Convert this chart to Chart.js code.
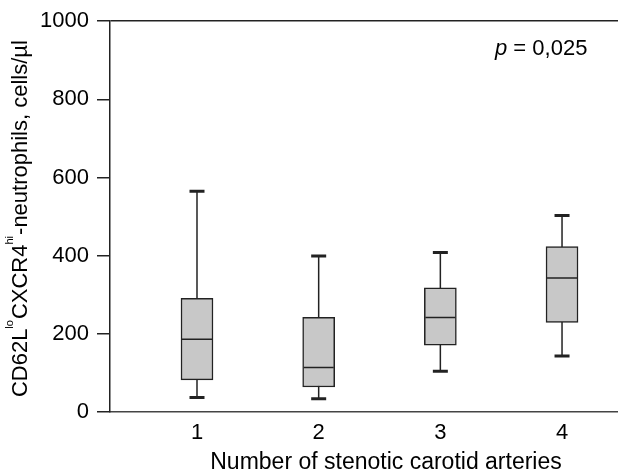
<!DOCTYPE html>
<html>
<head>
<meta charset="utf-8">
<script src="https://cdn.jsdelivr.net/npm/chart.js@4/dist/chart.umd.min.js"></script>
<style>
  body { margin: 0; background: #fff; }
  #wrap { width: 618px; height: 473px; position: relative; }
</style>
</head>
<body>
<div id="wrap"><canvas id="chart"></canvas></div>
<script>
// box plot values
const categories = [1, 2, 3, 4];
const whiskerLow = [37, 34, 104, 143];
const q1 = [82, 64, 171, 229];
const median = [186, 114, 242, 343];
const q3 = [291, 242, 318, 423];
const whiskerHigh = [565, 399, 408, 503];
const yTicks = [0, 200, 400, 600, 800, 1000];
const pLabel = '0,025';
const xTitle = 'Number of stenotic carotid arteries';

const FONT = "'Liberation Sans', Arial, sans-serif";
const INK = '#222';

// whiskers: one vertical line per group, drawn under the box
const whiskerSets = categories.map((c, i) => ({
    type: 'line',
    data: [{ x: c, y: whiskerLow[i] }, { x: c, y: whiskerHigh[i] }],
    borderColor: INK,
    borderWidth: 1.5,
    pointRadius: 0,
    order: 3
}));

const boxSet = {
    type: 'bar',
    data: categories.map((c, i) => ({ x: c, y: [q1[i], q3[i]] })),
    backgroundColor: '#c8c8c8',
    borderColor: INK,
    borderWidth: 1.5,
    borderSkipped: false,
    barThickness: 32,
    order: 2
};

const medianSet = {
    type: 'scatter',
    data: categories.map((c, i) => ({ x: c, y: median[i] })),
    pointStyle: 'line',
    pointRadius: 15,
    borderColor: INK,
    borderWidth: 1.5,
    order: 1
};

const capSet = {
    type: 'scatter',
    data: categories.flatMap((c, i) => [{ x: c, y: whiskerLow[i] }, { x: c, y: whiskerHigh[i] }]),
    pointStyle: 'line',
    pointRadius: 7.5,
    borderColor: INK,
    borderWidth: 3,
    order: 1
};

// y title with superscripts, x title, p value
const textPlugin = {
    id: 'texts',
    afterDraw(chart) {
        const ctx = chart.ctx;
        const area = chart.chartArea;
        const big = '22px ' + FONT;
        const small = '11px ' + FONT;
        const parts = [
            ['CD62L', big, 0], ['lo', small, 14], ['CXCR4', big, 0], ['hi', small, 14],
            ['-neutrophils, cells/\u00b5l', big, 0]
        ];
        ctx.save();
        let total = 0;
        parts.forEach(p => { ctx.font = p[1]; total += ctx.measureText(p[0]).width + (p[2] ? 1 : 0); });
        ctx.translate(27, (area.top + area.bottom) / 2 + 2);
        ctx.rotate(-Math.PI / 2);
        ctx.fillStyle = '#000';
        ctx.textBaseline = 'alphabetic';
        let x = -total / 2;
        parts.forEach(p => {
            ctx.font = p[1];
            ctx.fillText(p[0], x, -p[2]);
            x += ctx.measureText(p[0]).width + (p[2] ? 1 : 0);
        });
        ctx.restore();

        ctx.save();
        ctx.fillStyle = '#000';
        ctx.textBaseline = 'alphabetic';
        ctx.textAlign = 'center';
        ctx.font = '23px ' + FONT;
        ctx.fillText(xTitle, 386, 469);
        ctx.textAlign = 'left';
        ctx.font = 'italic 22px ' + FONT;
        ctx.fillText('p', 495, 55);
        let px = 495 + ctx.measureText('p').width;
        ctx.font = '22px ' + FONT;
        ctx.fillText(' = ' + pLabel, px, 55);
        ctx.restore();
    }
};

new Chart(document.getElementById('chart'), {
    type: 'bar',
    data: { datasets: [...whiskerSets, boxSet, medianSet, capSet] },
    options: {
        responsive: true,
        maintainAspectRatio: false,
        animation: false,
        layout: { autoPadding: false, padding: { top: 21, right: 0, left: 0, bottom: 0 } },
        plugins: { legend: { display: false }, tooltip: { enabled: false } },
        scales: {
            x: {
                type: 'linear',
                offset: false,
                min: 0.285,
                max: 4.46,
                afterBuildTicks: s => { s.ticks = categories.map(v => ({ value: v })); },
                afterFit: s => { s.height = 61; s.paddingLeft = 0; s.paddingRight = 0; },
                grid: { display: false, drawTicks: false },
                border: { display: true, color: '#444', width: 1.5 },
                ticks: { color: '#000', padding: 8, font: { family: FONT, size: 22 }, callback: v => String(v) }
            },
            y: {
                min: 0,
                max: 1000,
                afterBuildTicks: s => { s.ticks = yTicks.map(v => ({ value: v })); },
                afterFit: s => { s.width = 110; },
                grid: {
                    drawOnChartArea: true,
                    color: c => (c.tick && c.tick.value === 1000 ? INK : 'rgba(0,0,0,0)'),
                    lineWidth: 1.5,
                    tickColor: INK,
                    tickWidth: 1.5,
                    tickLength: 13
                },
                border: { display: true, color: INK, width: 1.5 },
                ticks: { color: '#000', padding: 8, font: { family: FONT, size: 22 }, callback: v => String(v) }
            }
        }
    },
    plugins: [textPlugin]
});
</script>
</body>
</html>
